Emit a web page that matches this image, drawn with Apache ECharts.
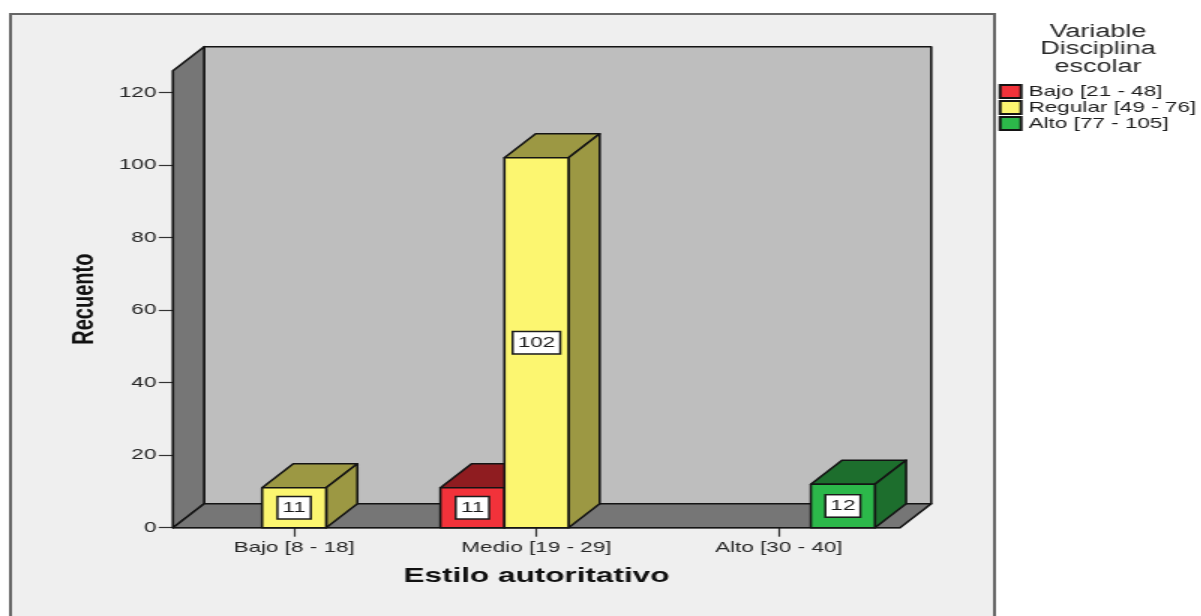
<!DOCTYPE html>
<html>
<head>
<meta charset="utf-8">
<title>Estilo autoritativo</title>
<script src="https://cdn.jsdelivr.net/npm/echarts@6/dist/echarts.min.js"></script>
<style>
  html, body { margin: 0; padding: 0; background: #fff; overflow: hidden; }
  /* the reference is a chart stretched sideways, so glyphs get stretched too */
  #chart { width: 801px; height: 616px; transform: scaleX(1.5); transform-origin: 0 0; }
</style>
</head>
<body>
<div id="chart"></div>
<script>
const categories = ['Bajo [8 - 18]', 'Medio [19 - 29]', 'Alto [30 - 40]']
const yTicks = [0, 20, 40, 60, 80, 100, 120]
const legendTitle = 'Variable\nDisciplina\nescolar'
const seriesNames = ['Bajo [21 - 48]', 'Regular [49 - 76]', 'Alto [77 - 105]']
const bajoValues = [0, 11, 0]
const regularValues = [11, 102, 0]
const altoValues = [0, 0, 12]

const fontName = 'Liberation Sans'
const edge = '#141414'
const barW = 42.7
const depthX = 20.8
const depthY = -24
const faces = [
  { front: '#f2323a', shade: '#8f1c20' },
  { front: '#fcf670', shade: '#9c9843' },
  { front: '#2cb84a', shade: '#1d6e2d' }
]

function poly(points, fill) {
  return {
    type: 'polygon',
    shape: { points: points },
    style: { fill: fill, stroke: edge, lineWidth: 1.6, lineJoin: 'round' }
  }
}

function renderWalls(params) {
  const c = params.coordSys
  const l = c.x, r = c.x + c.width, t = c.y, b = c.y + c.height
  return {
    type: 'group',
    children: [
      poly([[l + depthX, t + depthY], [r + depthX, t + depthY], [r + depthX, b + depthY], [l + depthX, b + depthY]], '#bebebe'),
      poly([[l, t], [l + depthX, t + depthY], [l + depthX, b + depthY], [l, b]], '#767676'),
      poly([[l, b], [l + depthX, b + depthY], [r + depthX, b + depthY], [r, b]], '#767676')
    ]
  }
}

function barRenderer(index) {
  return function (params, api) {
    const val = api.value(1)
    if (!val) return
    const top = api.coord([api.value(0), val])
    const base = api.coord([api.value(0), 0])
    const x0 = top[0] + (index - 1) * barW - barW / 2
    const x1 = x0 + barW
    const f = faces[index]
    return {
      type: 'group',
      children: [
        poly([[x0, top[1]], [x0 + depthX, top[1] + depthY], [x1 + depthX, top[1] + depthY], [x1, top[1]]], f.shade),
        poly([[x1, top[1]], [x1 + depthX, top[1] + depthY], [x1 + depthX, base[1] + depthY], [x1, base[1]]], f.shade),
        poly([[x0, top[1]], [x1, top[1]], [x1, base[1]], [x0, base[1]]], f.front),
        {
          type: 'text',
          style: {
            x: (x0 + x1) / 2,
            y: (top[1] + base[1]) / 2,
            text: String(val),
            align: 'center',
            verticalAlign: 'middle',
            font: '15px "' + fontName + '"',
            fill: '#1c1c1c',
            backgroundColor: '#fff',
            borderColor: '#1c1c1c',
            borderWidth: 1.5,
            padding: [3, 2.6]
          }
        }
      ]
    }
  }
}

function barSeries(index, values) {
  return {
    type: 'custom',
    name: seriesNames[index],
    z: 3,
    clip: false,
    itemStyle: { color: faces[index].front, borderColor: edge, borderWidth: 1 },
    renderItem: barRenderer(index),
    encode: { x: 0, y: 1 },
    data: values.map((v, i) => [i, v])
  }
}

const chart = echarts.init(document.getElementById('chart'))
chart.setOption({
  animation: false,
  backgroundColor: '#fff',
  textStyle: { fontFamily: fontName },
  graphic: [
    {
      type: 'rect',
      z: -1,
      shape: { x: 7, y: 14, width: 656, height: 640 },
      style: { fill: '#efefef', stroke: '#666', lineWidth: 2 }
    }
  ],
  title: {
    text: legendTitle,
    left: 732,
    top: 23,
    padding: 0,
    textAlign: 'center',
    textStyle: { fontSize: 18, fontWeight: 'normal', color: '#2a2a2a', lineHeight: 17.5, fontFamily: fontName }
  },
  legend: {
    orient: 'vertical',
    left: 665.7,
    top: 84,
    padding: 0,
    icon: 'rect',
    itemWidth: 14,
    itemHeight: 13,
    itemGap: 1,
    data: seriesNames,
    textStyle: { fontSize: 15, color: '#1c1c1c', fontFamily: fontName }
  },
  grid: { left: 115.3, top: 70.7, width: 484.7, height: 457 },
  xAxis: {
    type: 'category',
    data: categories,
    name: 'Estilo autoritativo',
    nameLocation: 'middle',
    nameGap: 38,
    nameTextStyle: { fontSize: 21, fontWeight: 'bold', color: '#111', fontFamily: fontName },
    axisLine: { lineStyle: { color: edge, width: 1.3 } },
    axisTick: { show: true, alignWithLabel: true, length: 9, lineStyle: { color: '#333', width: 1.2 } },
    axisLabel: { fontSize: 15, color: '#262626', margin: 13, fontFamily: fontName }
  },
  yAxis: {
    type: 'value',
    min: 0,
    max: 126,
    interval: 20,
    name: 'Recuento',
    nameLocation: 'middle',
    nameGap: 49,
    nameTextStyle: { fontSize: 20, fontWeight: 'bold', color: '#111', fontFamily: fontName },
    splitLine: { show: false },
    axisLine: { show: true, lineStyle: { color: edge, width: 1.3 } },
    axisTick: { show: true, length: 9.5, customValues: yTicks, lineStyle: { color: '#333', width: 1.2 } },
    axisLabel: { fontSize: 15, color: '#262626', margin: 11, customValues: yTicks, fontFamily: fontName }
  },
  series: [
    {
      type: 'custom',
      name: 'paredes',
      z: 1,
      clip: false,
      silent: true,
      renderItem: renderWalls,
      encode: { x: 0, y: 1 },
      data: [[0, 0]]
    },
    barSeries(0, bajoValues),
    barSeries(1, regularValues),
    barSeries(2, altoValues)
  ]
})
</script>
</body>
</html>
